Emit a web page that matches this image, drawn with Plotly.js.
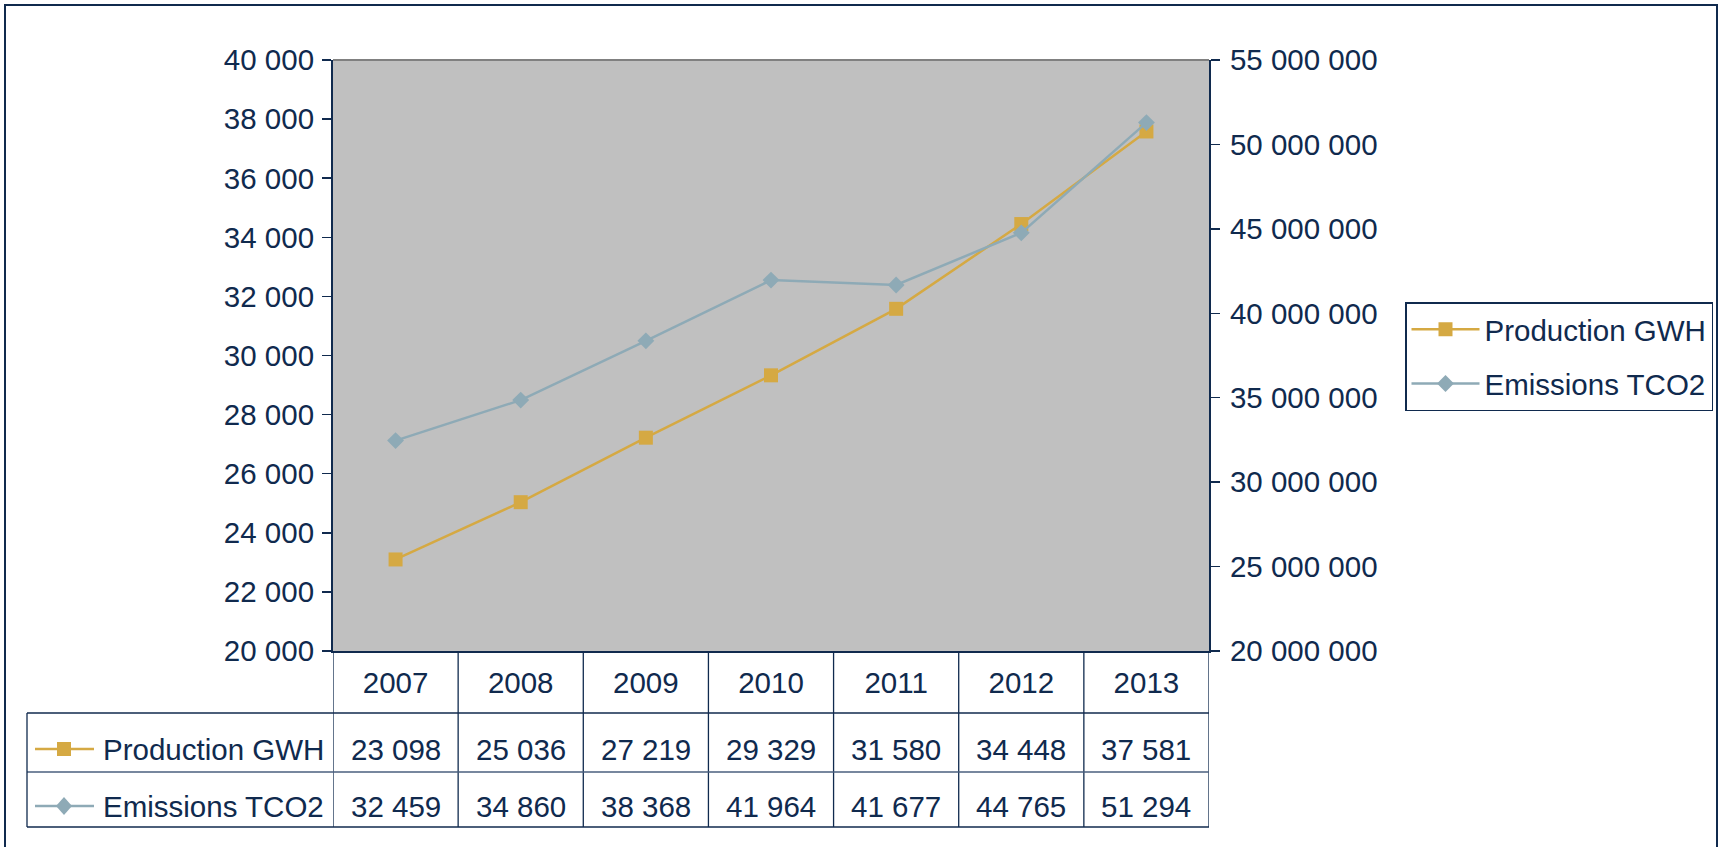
<!DOCTYPE html>
<html>
<head>
<meta charset="utf-8">
<script src="https://cdn.plot.ly/plotly-3.0.1.min.js"></script>
<style>html,body{margin:0;padding:0;background:#fff;}#chart{width:1722px;height:847px;}</style>
</head>
<body>
<div id="chart"></div>
<script>
// ---- data ----
const years = ['2007', '2008', '2009', '2010', '2011', '2012', '2013'];
const productionGWH = [23098, 25036, 27219, 29329, 31580, 34448, 37581];
const emissionsKTCO2 = [32459, 34860, 38368, 41964, 41677, 44765, 51294]; // as shown in table (thousands of t)
const seriesNames = ['Production GWH', 'Emissions TCO2'];
const leftTicks = [20000, 40000, 2000];
const rightTicks = [20000000, 55000000, 5000000];

// ---- styling ----
const W = 1722, H = 847;
const NAVY = '#102A4E';
const GOLD = '#D5A943';
const STEEL = '#8EAAB6';
const FONT = '"Liberation Sans Narrow", "Arial Narrow", "Liberation Sans", Arial, sans-serif';
const FS = 29.5;
const plotL = 333, plotR = 1209, plotT = 60, plotB = 651;
const rowLines = [713, 772, 827];
const tableLeft = 27;
const px = x => x / W;
const py = y => 1 - y / H;

function fmt(n) {
  return String(n).replace(/\B(?=(\d{3})+(?!\d))/g, ' ');
}

const emissionsT = emissionsKTCO2.map(v => v * 1000);

const traces = [
  {
    x: years, y: productionGWH, name: seriesNames[0], type: 'scatter', mode: 'lines+markers',
    xaxis: 'x', yaxis: 'y',
    line: {color: GOLD, width: 2.5},
    marker: {symbol: 'square', size: 14, color: GOLD},
    hoverinfo: 'skip', legendgroup: 'a'
  },
  {
    x: years, y: emissionsT, name: seriesNames[1], type: 'scatter', mode: 'lines+markers',
    xaxis: 'x', yaxis: 'y2',
    line: {color: STEEL, width: 2.5},
    marker: {symbol: 'diamond', size: 13, color: STEEL},
    hoverinfo: 'skip', legendgroup: 'b'
  }
];

const xDom = [px(plotL), px(plotR)];
const yDom = [py(plotB), py(plotT)];

const shapes = [];
const annotations = [];

// outer frame
shapes.push({type: 'rect', xref: 'paper', yref: 'paper', x0: px(5), x1: px(1717), y0: py(5), y1: py(860),
  line: {color: NAVY, width: 2}, fillcolor: 'rgba(0,0,0,0)', layer: 'below'});
// top border of plot area
shapes.push({type: 'line', xref: 'paper', yref: 'paper', x0: xDom[0], x1: xDom[1], y0: yDom[1], y1: yDom[1],
  line: {color: '#808080', width: 2}});
// table vertical dividers at category boundaries
for (let i = 0; i <= years.length; i++) {
  shapes.push({type: 'line', xref: 'x', yref: 'paper', x0: i - 0.5, x1: i - 0.5, y0: py(plotB), y1: py(rowLines[2]),
    line: {color: NAVY, width: 1.3}});
}
// table horizontal lines
rowLines.forEach((yy, k) => {
  shapes.push({type: 'line', xref: 'paper', yref: 'paper', x0: px(tableLeft), x1: xDom[1], y0: py(yy), y1: py(yy),
    line: {color: k === 1 ? '#4A5F7E' : NAVY, width: 1.3}});
});
shapes.push({type: 'line', xref: 'paper', yref: 'paper', x0: px(tableLeft), x1: px(tableLeft), y0: py(rowLines[0]), y1: py(rowLines[2]),
  line: {color: NAVY, width: 1.3}});

// table rows
const rowCenters = [749, 806];
const rowData = [productionGWH, emissionsKTCO2];
const rowColors = [GOLD, STEEL];
rowCenters.forEach((cy, r) => {
  // legend key in the table
  shapes.push({type: 'line', xref: 'paper', yref: 'paper', x0: px(35), x1: px(94), y0: py(cy), y1: py(cy),
    line: {color: rowColors[r], width: 2.5}});
  if (r === 0) {
    shapes.push({type: 'rect', xref: 'paper', yref: 'paper', x0: px(57), x1: px(71), y0: py(cy - 7), y1: py(cy + 7),
      line: {width: 0}, fillcolor: rowColors[r]});
  } else {
    const cx = 64;
    shapes.push({type: 'path', xref: 'paper', yref: 'paper',
      path: `M ${px(cx - 8)} ${py(cy)} L ${px(cx)} ${py(cy - 9)} L ${px(cx + 8)} ${py(cy)} L ${px(cx)} ${py(cy + 9)} Z`,
      line: {width: 0}, fillcolor: rowColors[r]});
  }
  annotations.push({xref: 'paper', yref: 'paper', x: px(101), y: py(cy), xanchor: 'left', yanchor: 'middle',
    text: seriesNames[r], showarrow: false, font: {family: FONT, size: FS, color: NAVY}});
  rowData[r].forEach((v, i) => {
    annotations.push({xref: 'x', yref: 'paper', x: i, y: py(cy), xanchor: 'center', yanchor: 'middle',
      text: fmt(v), showarrow: false, font: {family: FONT, size: FS, color: NAVY}});
  });
});

const tickFont = {family: FONT, size: FS, color: NAVY};

const layout = {
  width: W, height: H,
  margin: {l: 0, r: 0, t: 0, b: 0, pad: 0},
  paper_bgcolor: '#ffffff',
  plot_bgcolor: '#C0C0C0',
  separators: ', ',
  showlegend: true,
  legend: {
    x: px(1405), y: py(302), xanchor: 'left', yanchor: 'top',
    bgcolor: '#ffffff', bordercolor: NAVY, borderwidth: 1.5,
    font: {family: FONT, size: FS, color: NAVY},
    tracegroupgap: 13, itemwidth: 68, traceorder: 'grouped'
  },
  xaxis: {
    type: 'category', categoryorder: 'array', categoryarray: years,
    domain: xDom, anchor: 'y', range: [-0.5, years.length - 0.5],
    showgrid: false, zeroline: false,
    showline: true, linecolor: NAVY, linewidth: 2,
    ticks: '', showticklabels: true, tickfont: tickFont, ticklabelstandoff: 5,
    fixedrange: true
  },
  yaxis: {
    domain: yDom, anchor: 'x', range: [leftTicks[0], leftTicks[1]],
    tickmode: 'linear', tick0: leftTicks[0], dtick: leftTicks[2], tickformat: ',d',
    showgrid: false, zeroline: false,
    showline: true, linecolor: NAVY, linewidth: 2,
    ticks: 'outside', ticklen: 9, tickwidth: 1.5, tickcolor: NAVY,
    tickfont: tickFont, ticklabelstandoff: 2, fixedrange: true
  },
  yaxis2: {
    domain: yDom, anchor: 'x', overlaying: 'y', side: 'right',
    range: [rightTicks[0], rightTicks[1]],
    tickmode: 'linear', tick0: rightTicks[0], dtick: rightTicks[2], tickformat: ',d',
    showgrid: false, zeroline: false,
    showline: true, linecolor: NAVY, linewidth: 2,
    ticks: 'outside', ticklen: 9, tickwidth: 1.5, tickcolor: NAVY,
    tickfont: tickFont, ticklabelstandoff: 4, fixedrange: true
  },
  yaxis3: {
    domain: yDom, anchor: 'x', overlaying: 'y', side: 'left',
    range: [leftTicks[0], leftTicks[1]],
    tickmode: 'linear', tick0: leftTicks[0], dtick: leftTicks[2],
    showgrid: false, zeroline: false, showline: false,
    ticks: 'inside', ticklen: 9, tickwidth: 1.5, tickcolor: NAVY,
    showticklabels: false, fixedrange: true
  },
  yaxis4: {
    domain: yDom, anchor: 'x', overlaying: 'y', side: 'right',
    range: [rightTicks[0], rightTicks[1]],
    tickmode: 'linear', tick0: rightTicks[0], dtick: rightTicks[2],
    showgrid: false, zeroline: false, showline: false,
    ticks: 'inside', ticklen: 9, tickwidth: 1.5, tickcolor: NAVY,
    showticklabels: false, fixedrange: true
  },
  shapes: shapes,
  annotations: annotations
};

Plotly.newPlot('chart', traces, layout, {displayModeBar: false, staticPlot: true});
</script>
</body>
</html>
